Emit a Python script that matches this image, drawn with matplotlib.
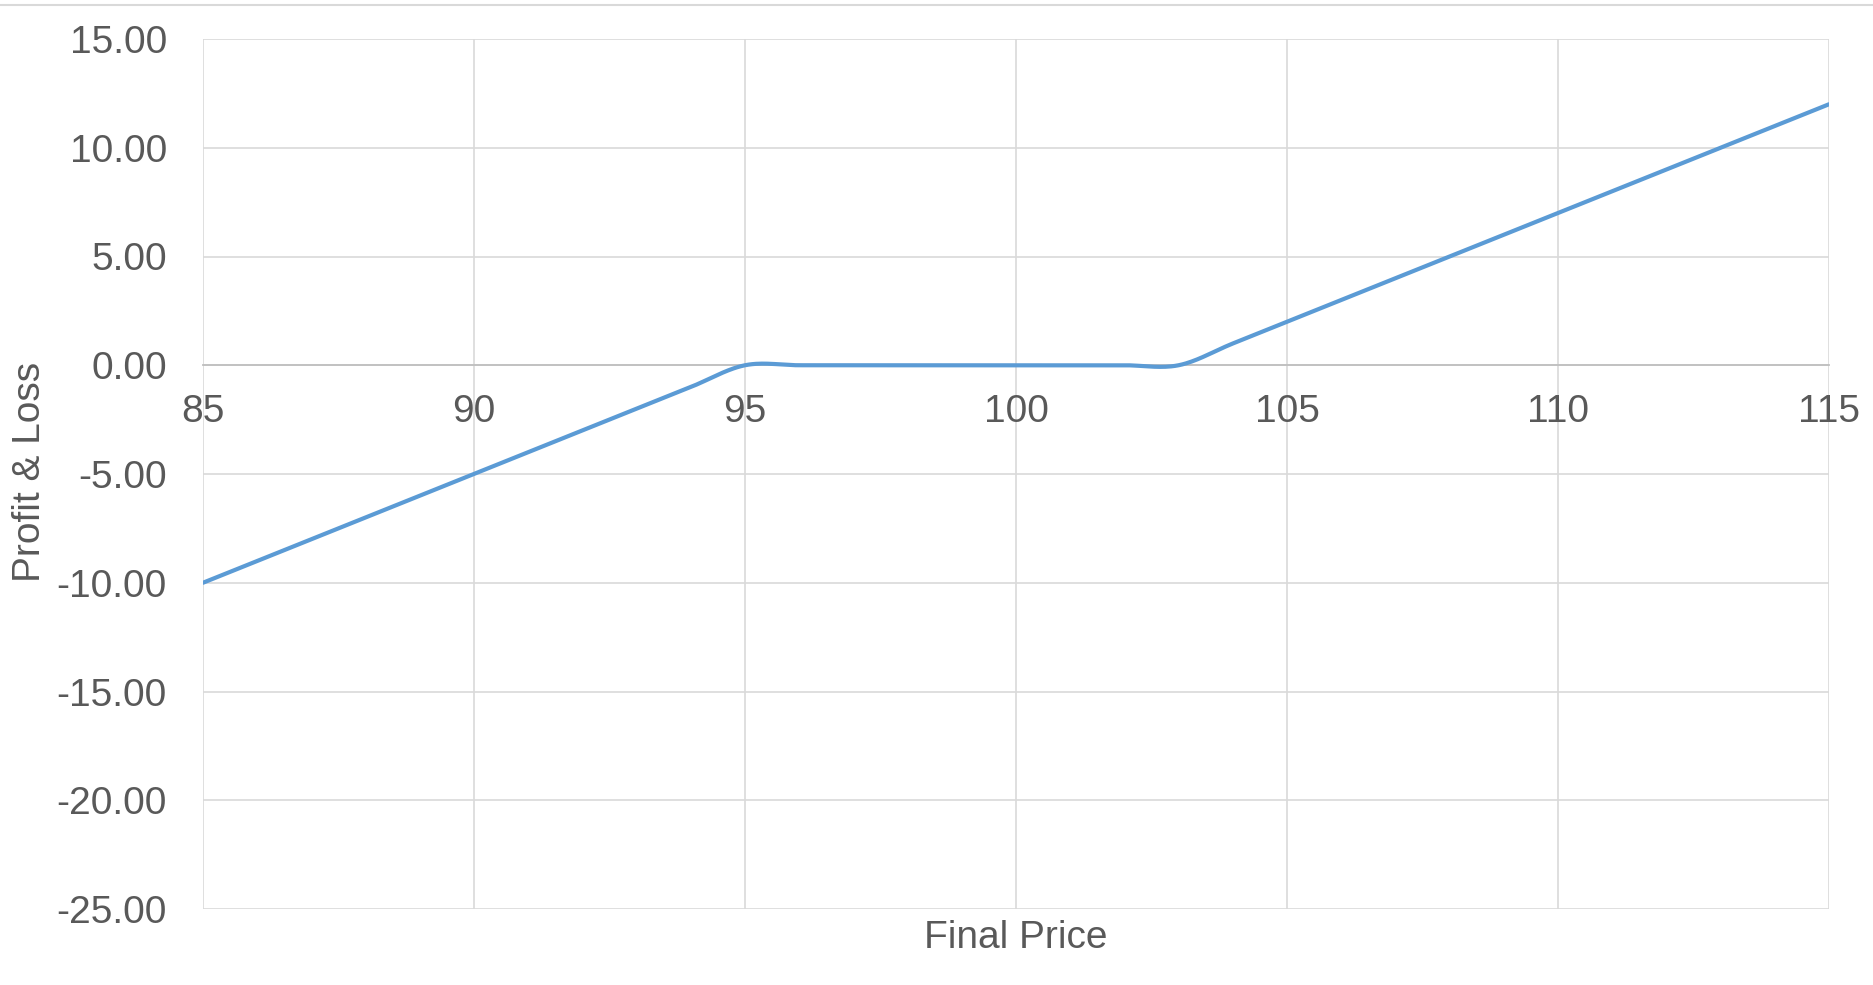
import matplotlib.pyplot as plt
import numpy as np
from matplotlib.lines import Line2D

# Endkurs und Gewinn/Verlust je Kurs
price = [85, 86, 87, 88, 89, 90, 91, 92, 93, 94, 95, 96, 97, 98, 99, 100,
         101, 102, 103, 104, 105, 106, 107, 108, 109, 110, 111, 112, 113, 114, 115]
pnl = [-10, -9, -8, -7, -6, -5, -4, -3, -2, -1, 0, 0, 0, 0, 0, 0,
       0, 0, 0, 1, 2, 3, 4, 5, 6, 7, 8, 9, 10, 11, 12]

yticks = [15, 10, 5, 0, -5, -10, -15, -20, -25]
xticks = [85, 90, 95, 100, 105, 110, 115]


def glatt(x, y, n=30):
    # geglaettete Linie (Bezier mit Catmull-Rom-Stuetzpunkten)
    x = np.asarray(x, float)
    y = np.asarray(y, float)
    px = np.concatenate([[x[0]], x, [x[-1]]])
    py = np.concatenate([[y[0]], y, [y[-1]]])
    xs, ys = [], []
    t = np.linspace(0, 1, n)
    for i in range(1, len(px) - 2):
        p0 = np.array([px[i], py[i]])
        p3 = np.array([px[i + 1], py[i + 1]])
        p1 = p0 + (np.array([px[i + 1], py[i + 1]]) - np.array([px[i - 1], py[i - 1]])) / 6
        p2 = p3 - (np.array([px[i + 2], py[i + 2]]) - np.array([px[i], py[i]])) / 6
        b = ((1 - t) ** 3)[:, None] * p0 + (3 * (1 - t) ** 2 * t)[:, None] * p1 \
            + (3 * (1 - t) * t ** 2)[:, None] * p2 + (t ** 3)[:, None] * p3
        xs.append(b[:, 0])
        ys.append(b[:, 1])
    return np.concatenate(xs), np.concatenate(ys)


plt.rcParams["font.family"] = ["Liberation Sans", "DejaVu Sans"]
grau = "#595959"

fig = plt.figure(figsize=(18.74, 9.85), dpi=100)
ax = fig.add_axes([203 / 1874, 1 - 909 / 985, (1829 - 203) / 1874, (909 - 39) / 985])

xs, ys = glatt(price, pnl)
ax.plot(xs, ys, "-", color="#5B9BD5", linewidth=3.0, solid_capstyle="round", zorder=3)

ax.set_xlim(85, 115)
ax.set_ylim(-25, 15)
ax.set_yticks(yticks)
ax.set_yticklabels([f"{v:.2f}" for v in yticks])
ax.set_xticks(xticks)
ax.grid(True, color="#d9d9d9", linewidth=1.2)
ax.set_axisbelow(True)

for s in ["top", "right", "left"]:
    ax.spines[s].set_visible(False)
ax.spines["bottom"].set_position(("data", 0))
ax.spines["bottom"].set_color("#bfbfbf")
ax.spines["bottom"].set_linewidth(1.3)
ax.spines["bottom"].set_zorder(2)

ax.tick_params(axis="both", length=0, labelsize=28, labelcolor=grau)
ax.tick_params(axis="y", pad=26)
ax.tick_params(axis="x", pad=21)

fig.text(1016 / 1874, 1 - 938 / 985, "Final Price", ha="center", va="center",
         fontsize=28, color=grau)
fig.text(30 / 1874, 1 - 472 / 985, "Profit & Loss", ha="center", va="center",
         rotation=90, fontsize=28, color=grau)

# Rahmenlinie oben
fig.add_artist(Line2D([0, 1], [1 - 5 / 985, 1 - 5 / 985], color="#d9d9d9",
                      linewidth=1.5, transform=fig.transFigure))

fig.savefig("out.png", dpi=100)
